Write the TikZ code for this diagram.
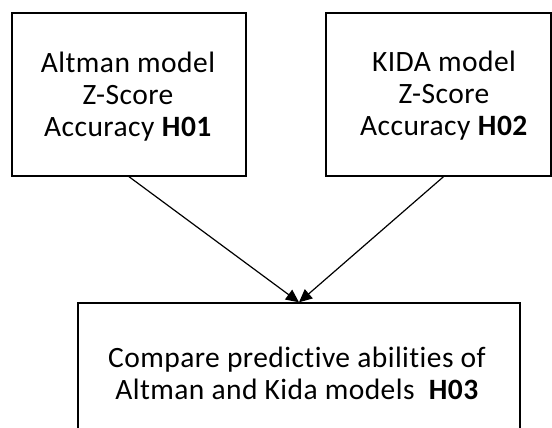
\documentclass[tikz,border=0pt]{standalone}
\usepackage{fontspec}
\setmainfont{Carlito}[LetterSpace=1.5, Ligatures=NoCommon]
\usetikzlibrary{arrows.meta}
\tikzset{
  box/.style={draw=black, line width=1.4pt, rectangle, inner sep=0pt},
  txt/.style={align=center, inner sep=0pt,
    font=\fontsize{29.5}{32}\selectfont},
  link/.style={line width=1.2pt,
    -{Triangle[length=13pt,width=12pt]}, shorten >=0pt}
}
\begin{document}
\begin{tikzpicture}[x=1pt, y=-1pt]
  \clip (0,0) rectangle (552,428);
  % three boxes
  \node[box, minimum width=234pt, minimum height=163pt] (b1) at (129,94.5) {};
  \node[box, minimum width=225pt, minimum height=163pt] (b2) at (438.5,94.5) {};
  \node[box, minimum width=442pt, minimum height=138pt] (b3) at (299,372) {};
  % their texts
  \node[txt] (t1) at (128,97) {Altman model\\Z-Score\\Accuracy \textbf{H01}};
  \node[txt] (t2) at (444,96) {KIDA model\\Z-Score\\Accuracy \textbf{H02}};
  \node[txt] (t3) at (297,373) {Compare predictive abilities of\\Altman and Kida models\ \ \textbf{H03}};
  % connectors into the comparison box
  \draw[link] (b1.south) -- (b3.north);
  \draw[link] ([xshift=5pt]b2.south) -- (b3.north);
\end{tikzpicture}
\end{document}
